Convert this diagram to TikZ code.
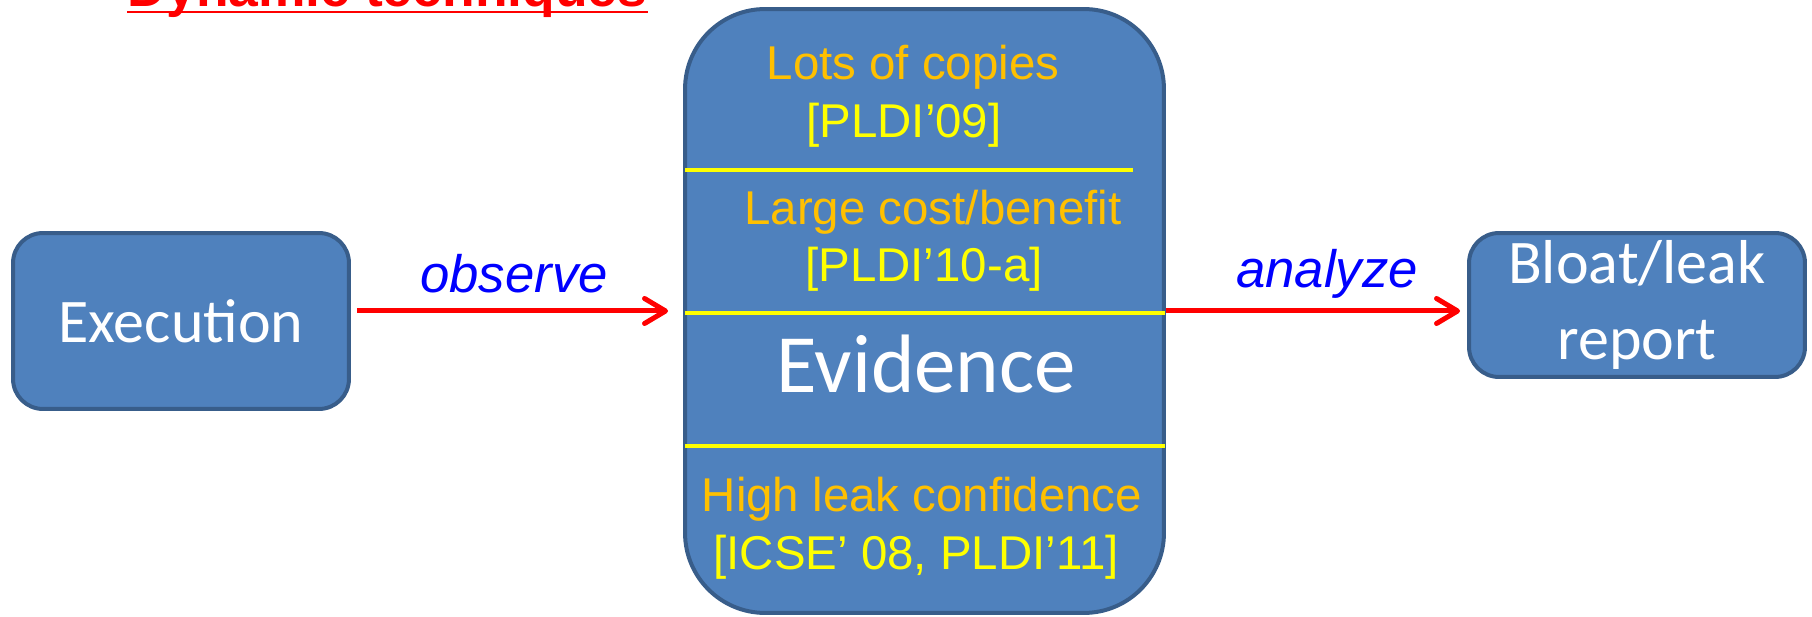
\documentclass[tikz,border=0pt]{standalone}
\usepackage{fontspec}
\setmainfont{Liberation Sans}
\newfontfamily\calibri{Carlito}
\usetikzlibrary{arrows.meta}

\begin{document}
\begin{tikzpicture}[
    x=0.02cm,
    y=-0.02cm,
    stagebox/.style={
        draw=boxline,
        fill=boxfill,
        line width=0.08cm,
        rounded corners=0.6cm,
        inner sep=0pt,
        minimum width=6.72cm,
        text=white,
        align=center,
        font=\calibri\fontsize{35.3}{43.2}\selectfont
    },
    flow/.style={
        draw=red,
        line width=0.1cm,
        -{Straight Barb[length=0.42cm, width=0.5cm, round]}
    },
    flowlabel/.style={
        text=blue,
        anchor=base,
        inner sep=0pt,
        font=\itshape\fontsize{30}{34}\selectfont
    },
    divider/.style={
        draw=yellow,
        line width=0.08cm
    },
    findlabel/.style={
        text=gold,
        anchor=base,
        inner sep=0pt,
        font=\fontsize{27}{32}\selectfont
    },
    paperlabel/.style={
        text=yellow,
        anchor=base,
        inner sep=0pt,
        font=\fontsize{27}{32}\selectfont
    }
]

\useasboundingbox (0,0) rectangle (1812,617);

% Define colors
\definecolor{boxfill}{RGB}{79,129,189}
\definecolor{boxline}{RGB}{56,93,138}
\definecolor{gold}{RGB}{255,192,0}
\definecolor{yellow}{RGB}{255,255,0}

% Title (only its lower part is on the page)
\node[text=red, anchor=base, inner sep=0pt,
      font=\bfseries\fontsize{30.4}{36}\selectfont] (title) at (387.5, 7) {Dynamic techniques};
\draw[red, line width=0.05cm] ([yshift=-0.1cm]title.base west) -- ([yshift=-0.1cm]title.base east);

% ============ BOXES ============
\node[stagebox, minimum height=3.52cm] (exec) at (181, 321) {Execution};
\node[stagebox, minimum width=9.58cm, minimum height=12.08cm, rounded corners=1.6cm] (evidence) at (924.5, 311) {};
\node[stagebox, minimum height=2.88cm] (report) at (1637, 305) {Bloat/leak\\report};

% ============ EVIDENCE CONTENTS ============
\draw[divider] (685, 170) -- (1133, 170);
\draw[divider] (685, 313) -- (1165, 313);
\draw[divider] (685, 446) -- (1165, 446);

\node[findlabel] (copies) at (913, 80) {Lots of copies};
\node[paperlabel] (pldinine) at (904, 138) {[PLDI’09]};
\node[findlabel] (costbenefit) at (933, 225) {Large cost/benefit};
\node[paperlabel] (plditen) at (924, 282) {[PLDI’10-a]};
\node[text=white, anchor=base, inner sep=0pt,
      font=\calibri\fontsize{47.2}{56}\selectfont] (evidencetext) at (926, 393) {Evidence};
\node[findlabel] (confidence) at (922, 512) {High leak confidence};
\node[paperlabel] (icse) at (916, 570) {[ICSE’ 08, PLDI’11]};

% ============ ARROWS ============
\draw[flow, shorten <=0.12cm, shorten >=0.3cm] (exec.east |- evidence.west) -- (evidence.west);
\draw[flow, shorten >=0.14cm] (evidence.east) -- (evidence.east -| report.west);

\node[flowlabel] (observe) at (514, 293) {observe};
\node[flowlabel] (analyze) at (1327, 288) {analyze};

\end{tikzpicture}
\end{document}
